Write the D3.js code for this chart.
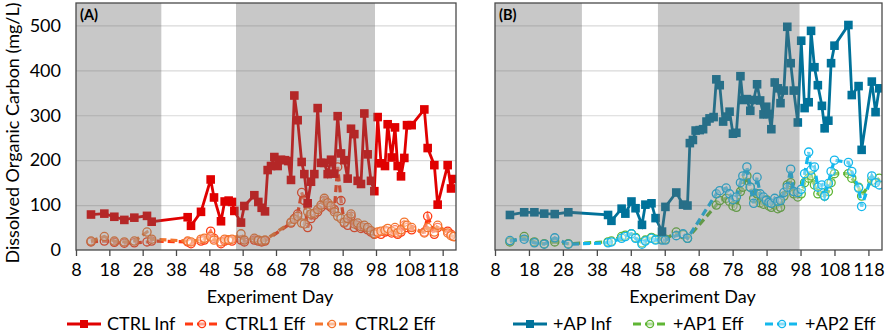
<!DOCTYPE html>
<html>
<head>
    <meta charset="utf-8">
    <title>DOC chart</title>
    <script src="https://d3js.org/d3.v7.min.js"></script>
</head>
<style>
    body { margin: 0; background: #fff; }
    text { font-family: Lato, "Open Sans", sans-serif; fill: #000; }
</style>
<body>
<script>

    // ---- data ----
    var ctrlInfDays = [12.5,16.5,19.5,22.5,25.5,29.3,30.7,41.5,42.5,45.5,48.4,49.4,51.5,52.6,53.8,54.8,55.5,57.5,58.5,61.5,62.7,63.7,64.7,65.5,66.5,67.5,68.5,69.5,70.7,71.7,72.5,73.5,74.5,75.7,76.5,77.5,78.5,79.5,80.5,81.5,82.5,83.5,84.5,85.5,86.5,87.5,88.5,89.5,90.5,91.5,92.5,93.5,94.5,95.5,96.5,97.5,98.5,99.5,100.7,101.5,102.7,103.7,104.5,105.5,106.5,107.3,108.7,112.5,113.5,115.5,116.5,119.5,120.5,121.3];
    var ctrlInf = [79,81,74,67,72,76,63,73,54,85,157,117,64,108,110,107,87,61,98,122,107,94,86,178,187,207,187,201,200,198,156,344,289,196,169,104,152,169,316,194,194,169,201,170,298,215,200,159,270,258,154,147,304,213,154,131,296,193,187,280,206,273,187,164,205,278,278,313,227,189,101,189,137,158];

    var ctrlEffDays = [12.5,16.5,19.5,22.5,25.5,29.3,30.7,41.5,42.5,45.5,46.5,48.4,49.4,51.5,52.6,53.8,54.8,57.5,58.5,61.5,62.7,63.7,64.7,72.5,73.5,74.5,75.7,76.5,77.5,78.5,79.5,80.5,81.5,82.5,83.5,84.5,85.5,86.5,87.5,88.5,89.5,90.5,91.5,92.5,93.5,94.5,95.5,96.5,97.5,98.5,99.5,100.7,101.5,102.7,103.7,104.5,105.5,106.5,107.3,108.7,112.5,113.5,115.5,116.5,119.5,120.5,121.3];
    var ctrl1Eff = [18,20,17,15,16,18,20,18,14,20,22,42,26,14,20,22,20,22,18,22,20,18,20,60,70,80,128,110,50,70,78,85,95,110,100,95,90,185,110,60,55,75,50,55,48,50,45,40,35,38,35,40,42,38,45,35,40,55,50,45,40,75,35,50,42,35,30];
    var ctrl2Eff = [20,30,20,18,20,40,24,20,18,24,26,30,22,18,24,22,24,36,22,26,22,20,22,62,68,75,60,58,85,80,82,90,100,115,105,98,85,75,70,62,70,80,58,60,52,55,50,43,36,40,42,44,48,42,50,38,45,62,55,50,38,50,40,55,38,32,30];

    var apDays = [12.4,16.6,19.6,22.5,25.6,29.6,41.3,42.3,45.3,46.4,48.2,49.4,51.3,52.3,54.1,55.3,57.2,58.2,61.4,63.4,64.7,65.4,66.3,67.1,68.3,69.3,70.3,71.2,72.4,73.2,74.2,75.2,76.1,77.1,78.1,79.1,80.3,81.0,82.2,83.2,84.2,85.2,86.1,87.1,87.9,88.7,89.4,90.4,91.3,92.1,93.1,94.1,95.1,96.0,97.2,98.2,99.2,100.4,101.1,102.1,103.1,104.3,105.1,106.2,107.0,108.0,112.1,113.1,115.1,116.0,119.0,120.1,121.2];
    var apInf = [78,84,84,81,80,84,78,65,92,81,108,93,56,101,104,71,41,96,128,101,99,238,245,266,267,269,286,293,296,380,367,286,297,308,259,261,387,334,336,310,334,369,333,302,319,303,269,373,360,327,355,497,416,355,284,466,316,329,488,407,367,321,271,288,416,455,501,345,365,223,375,307,360];

    var apEffDays = [12.4,16.6,19.6,22.5,25.6,29.6,41.3,42.3,45.3,46.4,48.2,49.4,51.3,52.3,54.1,55.3,57.2,58.2,61.4,63.4,64.7,73.2,74.2,76.1,77.1,78.1,79.1,80.3,81.0,82.2,83.2,84.2,85.2,86.1,87.1,87.9,88.7,89.4,90.4,91.3,92.1,93.1,94.1,95.1,96.0,97.2,98.2,99.2,100.4,101.1,102.1,103.1,104.3,105.1,106.2,107.0,108.0,112.1,113.1,115.1,116.0,119.0,120.1,121.2];
    var ap1Eff = [18,30,18,14,18,14,18,20,30,33,36,28,16,22,28,24,24,24,40,34,26,100,110,115,108,98,95,130,140,165,140,115,125,105,102,112,98,95,100,92,95,120,145,150,125,118,125,150,160,165,145,125,128,120,130,150,170,170,160,140,120,155,150,160];
    var ap2Eff = [21,24,16,13,27,13,16,18,26,30,36,26,13,20,26,22,22,22,32,36,26,125,132,138,125,112,118,150,165,185,140,104,162,125,118,110,106,104,115,108,110,128,140,180,130,128,135,170,218,178,185,140,145,120,148,175,200,195,175,138,97,165,150,145];

    var xTicks = [8,18,28,38,48,58,68,78,88,98,108,118];
    var yTicks = [0,100,200,300,400,500];
    var shaded = [[8,33.6],[56,97.7]];

    var panels = [
        { label: "(A)", left: 76, right: 456, series: [
            { name: "CTRL Inf", days: ctrlInfDays, vals: ctrlInf, color: "#e00000", inf: true },
            { name: "CTRL1 Eff", days: ctrlEffDays, vals: ctrl1Eff, color: "#ff3a12", inf: false },
            { name: "CTRL2 Eff", days: ctrlEffDays, vals: ctrl2Eff, color: "#f4752e", inf: false }
          ], legendX: [67, 185, 315] },
        { label: "(B)", left: 495, right: 882, series: [
            { name: "+AP Inf", days: apDays, vals: apInf, color: "#00729a", inf: true },
            { name: "+AP1 Eff", days: apEffDays, vals: ap1Eff, color: "#5fb534", inf: false },
            { name: "+AP2 Eff", days: apEffDays, vals: ap2Eff, color: "#14b8ec", inf: false }
          ], legendX: [513, 633, 765] }
    ];

    var plotTop = 3, plotBottom = 250;

    var svg = d3.select("body").append("svg")
        .attr("width", 886)
        .attr("height", 334);

    var y = d3.scaleLinear().domain([0, 550]).range([plotBottom, plotTop]);

    // y axis title
    svg.append("text")
        .attr("transform", "translate(19,133) rotate(-90)")
        .attr("text-anchor", "middle")
        .style("font-size", "18px")
        .text("Dissolved Organic Carbon (mg/L)");

    // y tick labels (only left panel)
    svg.selectAll("ylab")
        .data(yTicks)
        .enter().append("text")
        .attr("x", 61)
        .attr("y", function(d) { return y(d); })
        .attr("dy", "0.35em")
        .attr("text-anchor", "end")
        .style("font-size", "18px")
        .text(function(d) { return d; });

    panels.forEach(function(p, pi) {
        var x = d3.scaleLinear().domain([8, 122]).range([p.left, p.right]);
        var g = svg.append("g");

        g.append("clipPath").attr("id", "clip" + pi)
          .append("rect")
          .attr("x", p.left).attr("y", plotTop)
          .attr("width", p.right - p.left).attr("height", plotBottom - plotTop);

        // gridlines
        g.append("g")
          .attr("transform", "translate(" + p.left + ",0)")
          .call(d3.axisLeft(y).tickValues(yTicks.slice(1)).tickSize(-(p.right - p.left)).tickFormat(""))
          .call(function(s) { s.select(".domain").remove(); })
          .selectAll("line").attr("stroke", "#d9d9d9").attr("stroke-width", 1.2);

        var plot = g.append("g").attr("clip-path", "url(#clip" + pi + ")");

        // draw effluent first, influent on top
        var order = [p.series[1], p.series[2], p.series[0]];
        order.forEach(function(s) {
            var pts = s.days.map(function(d, i) { return [d, s.vals[i]]; });
            var line = d3.line()
                .x(function(d) { return x(d[0]); })
                .y(function(d) { return y(d[1]); });

            plot.append("path")
              .datum(pts)
              .attr("d", line)
              .attr("fill", "none")
              .attr("stroke", s.color)
              .attr("stroke-width", s.inf ? 2.8 : 3.2)
              .attr("stroke-dasharray", s.inf ? null : "7,4");

            if (s.inf) {
                plot.selectAll("sq")
                  .data(pts)
                  .enter().append("rect")
                  .attr("x", function(d) { return x(d[0]) - 4.3; })
                  .attr("y", function(d) { return y(d[1]) - 4.3; })
                  .attr("width", 8.6).attr("height", 8.6)
                  .attr("fill", s.color);
            } else {
                plot.selectAll("dot")
                  .data(pts)
                  .enter().append("circle")
                  .attr("cx", function(d) { return x(d[0]); })
                  .attr("cy", function(d) { return y(d[1]); })
                  .attr("r", 4.1)
                  .attr("fill", "#fff")
                  .attr("fill-opacity", 0.35)
                  .attr("stroke", s.color)
                  .attr("stroke-width", 1.3);
            }
        });

        // gray phases laid over the data
        g.selectAll("shade")
          .data(shaded)
          .enter().append("rect")
          .attr("x", function(d) { return x(d[0]); })
          .attr("y", plotTop)
          .attr("width", function(d) { return x(d[1]) - x(d[0]); })
          .attr("height", plotBottom - plotTop)
          .attr("fill", "rgb(107,107,107)")
          .attr("fill-opacity", 0.37);

        // frame
        g.append("rect")
          .attr("x", p.left).attr("y", plotTop)
          .attr("width", p.right - p.left).attr("height", plotBottom - plotTop)
          .attr("fill", "none")
          .attr("stroke", "#4a4a4a")
          .attr("stroke-width", 1.3);

        // x axis
        var xa = g.append("g")
          .attr("transform", "translate(0," + plotBottom + ")")
          .call(d3.axisBottom(x).tickValues(xTicks).tickSize(6).tickPadding(7));
        xa.select(".domain").remove();
        xa.selectAll("line").attr("stroke", "#4a4a4a").attr("stroke-width", 1.3);
        xa.selectAll("text")
          .style("font-size", "18px")
          .style("font-family", "Lato, sans-serif")
          .attr("fill", "#000");

        g.append("text")
          .attr("x", (p.left + p.right) / 2 + 4)
          .attr("y", 303)
          .attr("text-anchor", "middle")
          .style("font-size", "18px")
          .text("Experiment Day");

        // panel label
        g.append("text")
          .attr("x", p.left + 4)
          .attr("y", plotTop + 17)
          .style("font-size", "14.5px")
          .style("font-weight", "bold")
          .text(p.label);

        // legend
        p.series.forEach(function(s, i) {
            var lx = p.legendX[i], ly = 324;
            g.append("line")
              .attr("x1", lx).attr("x2", lx + 34)
              .attr("y1", ly).attr("y2", ly)
              .attr("stroke", s.color)
              .attr("stroke-width", s.inf ? 2.8 : 3.2)
              .attr("stroke-dasharray", s.inf ? null : "8,4");
            if (s.inf) {
                g.append("rect")
                  .attr("x", lx + 17 - 4).attr("y", ly - 4)
                  .attr("width", 8).attr("height", 8)
                  .attr("fill", s.color);
            } else {
                g.append("circle")
                  .attr("cx", lx + 17).attr("cy", ly).attr("r", 3.6)
                  .attr("fill", "#fff").attr("fill-opacity", 0.5)
                  .attr("stroke", s.color).attr("stroke-width", 1.3);
            }
            g.append("text")
              .attr("x", lx + 40)
              .attr("y", ly)
              .attr("dy", "0.35em")
              .style("font-size", "18px")
              .text(s.name);
        });
    });

</script>
</body>
</html>
